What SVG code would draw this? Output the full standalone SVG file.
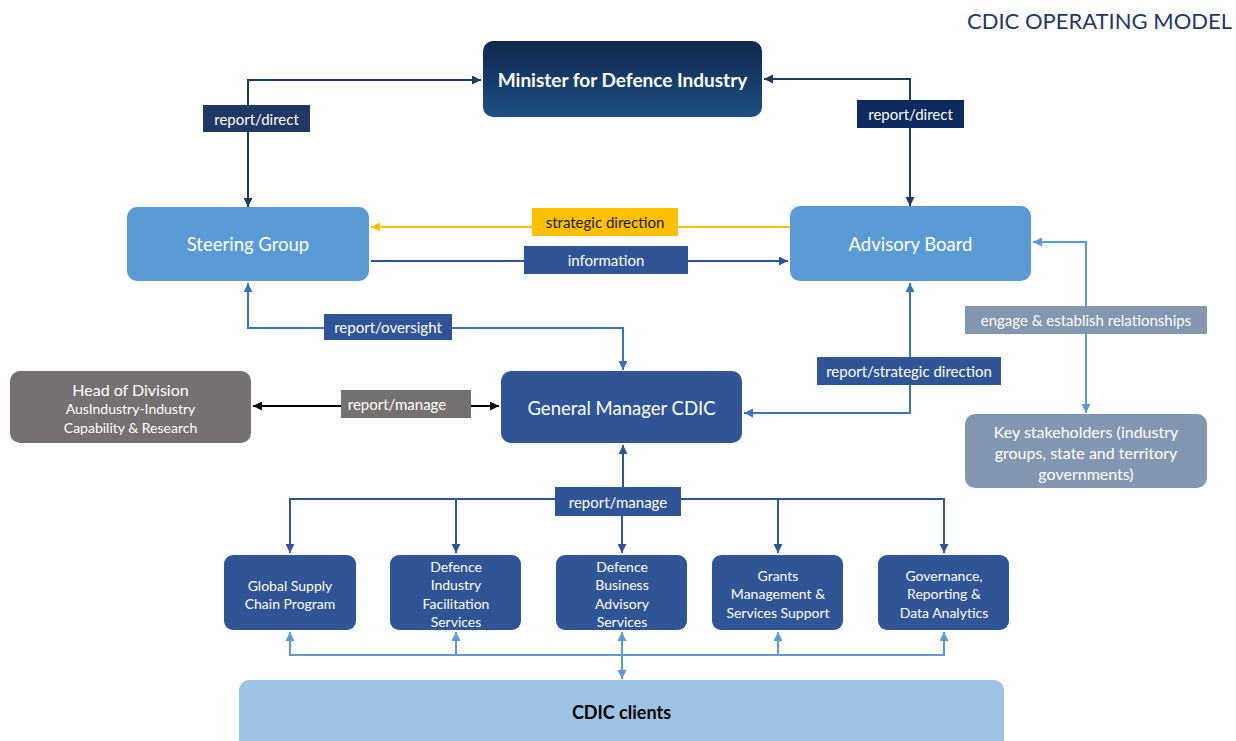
<svg xmlns="http://www.w3.org/2000/svg" width="1236" height="741" viewBox="0 0 1236 741">
<style>
text{font-family:Lato,"Open Sans","Liberation Sans",sans-serif;text-anchor:middle;dominant-baseline:central}
.lbl{font-size:15px;fill:#ffffff}
.node{font-size:18.5px;fill:#ffffff}
.sm{font-size:14px;fill:#ffffff}
.mid{font-size:16px;fill:#ffffff}
.c{fill:none;stroke-width:2}
</style>
<defs>
<linearGradient id="gMin" x1="0" y1="0" x2="0" y2="1">
<stop offset="0" stop-color="#10294d"/>
<stop offset="1" stop-color="#1d4f82"/>
</linearGradient>
<marker id="aNavy" viewBox="0 0 10 10" refX="10" refY="5" markerWidth="9" markerHeight="9" markerUnits="userSpaceOnUse" orient="auto-start-reverse"><path d="M0,0L10,5L0,10z" fill="#1f3864"/></marker>
<marker id="aYel" viewBox="0 0 10 10" refX="10" refY="5" markerWidth="9" markerHeight="9" markerUnits="userSpaceOnUse" orient="auto-start-reverse"><path d="M0,0L10,5L0,10z" fill="#ffc000"/></marker>
<marker id="aBlue" viewBox="0 0 10 10" refX="10" refY="5" markerWidth="9" markerHeight="9" markerUnits="userSpaceOnUse" orient="auto-start-reverse"><path d="M0,0L10,5L0,10z" fill="#2f5597"/></marker>
<marker id="aMid" viewBox="0 0 10 10" refX="10" refY="5" markerWidth="9" markerHeight="9" markerUnits="userSpaceOnUse" orient="auto-start-reverse"><path d="M0,0L10,5L0,10z" fill="#3a74b8"/></marker>
<marker id="aLt" viewBox="0 0 10 10" refX="10" refY="5" markerWidth="9" markerHeight="9" markerUnits="userSpaceOnUse" orient="auto-start-reverse"><path d="M0,0L10,5L0,10z" fill="#5b9bd5"/></marker>
<marker id="aBlk" viewBox="0 0 10 10" refX="10" refY="5" markerWidth="9" markerHeight="9" markerUnits="userSpaceOnUse" orient="auto-start-reverse"><path d="M0,0L10,5L0,10z" fill="#000000"/></marker>
</defs>
<rect width="1236" height="741" fill="#ffffff"/>
<text x="1232" y="20" style="text-anchor:end;font-size:22px;fill:#1f3864">CDIC OPERATING MODEL</text>

<g id="connectors">
<path class="c" d="M248,207V80H481" stroke="#1f3864" marker-start="url(#aNavy)" marker-end="url(#aNavy)"/>
<path class="c" d="M910,206V79H764" stroke="#1f3864" marker-start="url(#aNavy)" marker-end="url(#aNavy)"/>
<path class="c" d="M790,227H371" stroke="#ffc000" marker-end="url(#aYel)"/>
<path class="c" d="M371,261H788" stroke="#2f5597" marker-end="url(#aBlue)"/>
<path class="c" d="M248,283V328H623V370" stroke="#3a74b8" marker-start="url(#aMid)" marker-end="url(#aMid)"/>
<path class="c" d="M910,283V413H744" stroke="#3a74b8" marker-start="url(#aMid)" marker-end="url(#aMid)"/>
<path class="c" d="M253,406H499" stroke="#000000" marker-start="url(#aBlk)" marker-end="url(#aBlk)"/>
<path class="c" d="M1033,242H1086V413" stroke="#5b9bd5" marker-start="url(#aLt)" marker-end="url(#aLt)"/>
<path class="c" d="M623,445V499" stroke="#2f5597" marker-start="url(#aBlue)"/>
<path class="c" d="M290,553V499H944V553" stroke="#2f5597" marker-end="url(#aBlue)" marker-start="url(#aBlue)"/>
<path class="c" d="M456,499V553" stroke="#2f5597" marker-end="url(#aBlue)"/>
<path class="c" d="M622,499V553" stroke="#2f5597" marker-end="url(#aBlue)"/>
<path class="c" d="M778,499V553" stroke="#2f5597" marker-end="url(#aBlue)"/>
<path class="c" d="M290,632V655H944V632" stroke="#5b9bd5" marker-start="url(#aLt)" marker-end="url(#aLt)"/>
<path class="c" d="M456,655V632" stroke="#5b9bd5" marker-end="url(#aLt)"/>
<path class="c" d="M778,655V632" stroke="#5b9bd5" marker-end="url(#aLt)"/>
<path class="c" d="M622,632V679" stroke="#5b9bd5" marker-start="url(#aLt)" marker-end="url(#aLt)"/>
<rect x="203" y="105" width="107" height="27" fill="#1f3864"/>
<text class="lbl" x="256.5" y="118.5">report/direct</text>
<rect x="857" y="100" width="107" height="28" fill="#0c2a5e"/>
<text class="lbl" x="910.5" y="114">report/direct</text>
<rect x="532" y="208" width="146" height="28" fill="#ffc000"/>
<text x="605" y="222" style="font-size:15px;fill:#1a1a1a">strategic direction</text>
<rect x="524" y="246" width="164" height="28" fill="#2f5597"/>
<text class="lbl" x="606" y="260">information</text>
<rect x="324" y="314" width="128" height="26" fill="#2f5597"/>
<text class="lbl" x="388" y="327">report/oversight</text>
<rect x="817" y="357" width="184" height="28" fill="#2f5597"/>
<text class="lbl" x="909" y="371">report/strategic direction</text>
<rect x="341" y="390" width="130" height="28" fill="#767171"/>
<text class="lbl" x="397" y="404">report/manage</text>
<rect x="965" y="306" width="242" height="28" fill="#8497b0"/>
<text class="lbl" x="1086" y="320">engage &amp; establish relationships</text>
<rect x="555" y="487" width="126" height="29" fill="#2f5597"/>
<text class="lbl" x="618" y="501.5">report/manage</text>
</g>

<g id="minister">
<rect x="483" y="41" width="279" height="76" rx="10" fill="url(#gMin)"/>
<text x="622.5" y="79" style="font-size:19px;font-weight:bold;fill:#ffffff">Minister for Defence Industry</text>
</g>
<g id="steering">
<rect x="127" y="207" width="242" height="74" rx="10" fill="#5b9bd5"/>
<text class="node" x="248" y="244">Steering Group</text>
</g>
<g id="advisory">
<rect x="790" y="206" width="241" height="75" rx="10" fill="#5b9bd5"/>
<text class="node" x="910.5" y="244">Advisory Board</text>
</g>
<g id="gm">
<rect x="501" y="371" width="241" height="72" rx="10" fill="#2f5597"/>
<text class="node" x="621.5" y="408">General Manager CDIC</text>
</g>
<g id="head">
<rect x="10" y="371" width="241" height="72" rx="10" fill="#767171"/>
<text x="130.5" y="389" style="font-size:16px;fill:#ffffff">Head of Division</text>
<text class="sm" x="130.5" y="408">AusIndustry-Industry</text>
<text class="sm" x="130.5" y="427">Capability &amp; Research</text>
</g>
<g id="stakeholders">
<rect x="965" y="414" width="242" height="74" rx="10" fill="#8497b0"/>
<text class="mid" x="1086" y="431">Key stakeholders (industry</text>
<text class="mid" x="1086" y="452">groups, state and territory</text>
<text class="mid" x="1086" y="473">governments)</text>
</g>
<g id="gsc">
<rect x="224" y="555" width="132" height="75" rx="9" fill="#2f5597"/>
<text class="sm" x="290" y="585">Global Supply</text>
<text class="sm" x="290" y="603">Chain Program</text>
</g>
<g id="difs">
<rect x="390" y="555" width="131" height="75" rx="9" fill="#2f5597"/>
<text class="sm" x="456" y="566">Defence</text>
<text class="sm" x="456" y="584">Industry</text>
<text class="sm" x="456" y="603">Facilitation</text>
<text class="sm" x="456" y="621">Services</text>
</g>
<g id="dbas">
<rect x="556" y="555" width="131" height="75" rx="9" fill="#2f5597"/>
<text class="sm" x="622" y="566">Defence</text>
<text class="sm" x="622" y="584">Business</text>
<text class="sm" x="622" y="603">Advisory</text>
<text class="sm" x="622" y="621">Services</text>
</g>
<g id="grants">
<rect x="712" y="555" width="131" height="75" rx="9" fill="#2f5597"/>
<text class="sm" x="778" y="575">Grants</text>
<text class="sm" x="778" y="593">Management &amp;</text>
<text class="sm" x="778" y="612">Services Support</text>
</g>
<g id="gov">
<rect x="878" y="555" width="131" height="75" rx="9" fill="#2f5597"/>
<text class="sm" x="944" y="575">Governance,</text>
<text class="sm" x="944" y="593">Reporting &amp;</text>
<text class="sm" x="944" y="612">Data Analytics</text>
</g>
<g id="clients">
<rect x="239" y="680" width="765" height="70" rx="10" fill="#9dc3e6"/>
<text x="621.5" y="712" style="font-size:18px;font-weight:bold;fill:#000000">CDIC clients</text>
</g>
</svg>
